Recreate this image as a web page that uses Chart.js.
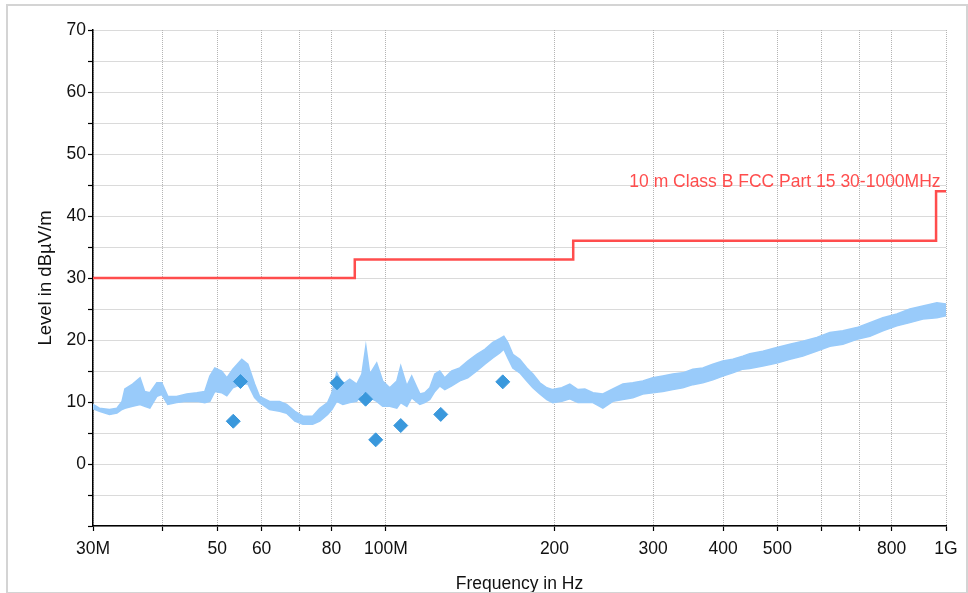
<!DOCTYPE html>
<html>
<head>
<meta charset="utf-8">
<script src="https://cdn.jsdelivr.net/npm/chart.js@4/dist/chart.umd.min.js"></script>
<style>
  html, body { margin: 0; padding: 0; background: #fff; }
  #wrap { position: relative; width: 968px; height: 593px; overflow: hidden; }
  #frame { position: absolute; left: 6px; top: 4px; width: 958px; height: 586px; border: 2px solid #d4d4d4; pointer-events: none; }
  canvas { position: absolute; left: 0; top: 0; }
</style>
</head>
<body>
<div id="wrap">
  <canvas id="c" width="968" height="593"></canvas>
  <div id="frame"></div>
</div>
<script>
// ---- data (frequency in MHz, level in dBµV/m) ----
const traceFreq = [30.0, 30.8, 32.1, 33.1, 33.8, 34.2, 35.3, 36.4, 37.1, 37.9, 39.0, 39.8, 40.8, 42.3, 44.1, 46.0, 47.5, 48.5, 49.5, 50.9, 52.0, 53.3, 55.3, 56.7, 58.3, 59.5, 62.0, 64.6, 66.5, 68.8, 71.1, 74.0, 76.2, 78.7, 80.1, 81.7, 83.8, 86.2, 88.7, 90.6, 92.1, 93.6, 96.3, 98.7, 101.6, 104.6, 106.3, 109.0, 111.2, 113.5, 115.0, 117.3, 119.8, 122.3, 124.8, 127.4, 131.1, 135.5, 140.0, 145.3, 150.2, 155.2, 159.7, 162.4, 165.1, 168.5, 173.4, 178.5, 183.0, 188.3, 193.8, 198.6, 206.1, 213.0, 220.2, 226.6, 234.2, 244.0, 254.2, 264.9, 276.0, 287.6, 299.6, 312.2, 325.3, 338.9, 353.2, 368.0, 383.4, 399.5, 416.2, 433.7, 446.3, 471.0, 498.9, 526.3, 555.2, 588.1, 620.4, 654.4, 693.2, 731.3, 771.4, 817.1, 861.9, 909.3, 963.2, 1000];
const traceMax = [9.6, 9.0, 8.8, 9.0, 10.1, 12.1, 12.9, 13.9, 11.7, 11.5, 13.1, 13.1, 10.9, 10.9, 11.3, 11.5, 11.7, 14.2, 15.5, 15.0, 13.9, 15.3, 16.9, 16.1, 12.9, 10.9, 10.1, 10.1, 9.6, 8.5, 7.7, 7.7, 9.0, 9.9, 11.5, 14.7, 12.9, 13.7, 12.9, 14.5, 19.0, 14.5, 16.3, 13.4, 12.3, 13.4, 15.8, 12.6, 14.2, 12.4, 11.3, 11.5, 12.3, 14.5, 15.0, 13.9, 15.0, 15.5, 16.6, 17.7, 18.5, 19.6, 20.2, 20.6, 19.6, 17.7, 16.9, 15.5, 14.5, 13.1, 12.3, 12.0, 12.3, 12.9, 12.0, 12.1, 11.5, 11.3, 12.1, 12.9, 13.1, 13.4, 13.9, 14.2, 14.5, 14.7, 15.3, 15.5, 16.1, 16.6, 16.9, 17.4, 17.8, 18.2, 18.8, 19.3, 19.8, 20.4, 21.2, 21.5, 22.0, 22.8, 23.6, 24.2, 25.0, 25.5, 26.0, 25.8];
const traceMin = [8.9, 8.5, 8.0, 8.2, 8.8, 9.0, 9.3, 9.6, 9.3, 9.0, 10.9, 11.2, 9.6, 9.9, 10.1, 10.1, 9.9, 10.1, 11.7, 11.5, 11.0, 12.3, 12.9, 12.9, 10.7, 9.9, 8.8, 8.5, 8.2, 6.9, 6.4, 6.4, 6.9, 8.0, 8.8, 10.1, 9.6, 9.9, 10.1, 11.3, 11.7, 10.7, 10.1, 9.3, 9.3, 9.0, 9.9, 9.3, 10.7, 10.0, 9.6, 9.9, 10.4, 11.7, 12.6, 12.0, 12.6, 13.4, 13.9, 15.0, 16.1, 17.1, 17.9, 18.5, 17.1, 15.5, 14.7, 13.4, 12.3, 11.3, 10.4, 9.9, 10.1, 10.5, 9.9, 9.9, 9.9, 9.0, 10.1, 10.4, 10.7, 11.3, 11.5, 11.7, 12.0, 12.3, 12.8, 13.1, 13.6, 14.2, 14.7, 15.3, 15.4, 15.8, 16.3, 16.9, 17.4, 18.2, 19.0, 19.3, 20.1, 20.6, 21.5, 22.3, 22.8, 23.4, 23.6, 23.9];

const markerFreq = [53.4, 55.0, 81.8, 92.0, 95.9, 106.3, 125.3, 161.7];
const markerLevel = [6.9, 13.3, 13.1, 10.45, 3.9, 6.2, 8.0, 13.25];

const limitFreq = [30, 88, 216, 960, 1000];
const limitLevel = [30, 33, 36, 44, 44];
const limitLabel = '10 m Class B FCC Part 15 30-1000MHz';

const xTickVals = [30, 40, 50, 60, 70, 80, 100, 200, 300, 400, 500, 600, 700, 800, 1000];
const xTickLabels = ['30M', '', '50', '60', '', '80', '100M', '200', '300', '400', '500', '', '', '800', '1G'];
const yTickLabelVals = [0, 10, 20, 30, 40, 50, 60, 70];

const xTitle = 'Frequency in Hz';
const yTitle = 'Level in dBµV/m';

// ---- chart ----
const FONT = 'Liberation Sans, Arial, sans-serif';
const pts = (xs, ys) => xs.map((x, i) => ({ x: x, y: ys[i] }));

const limitLabelPlugin = {
  id: 'limitLabel',
  afterDatasetsDraw(chart) {
    const { ctx, scales: { x, y } } = chart;
    const n = limitFreq.length;
    ctx.save();
    ctx.font = '17.5px ' + FONT;
    ctx.fillStyle = '#ff4d4d';
    ctx.textAlign = 'right';
    ctx.textBaseline = 'alphabetic';
    ctx.fillText(limitLabel, x.getPixelForValue(limitFreq[n - 2]) + 4.5, y.getPixelForValue(limitLevel[n - 1]) - 4.5);
    ctx.restore();
  }
};

new Chart(document.getElementById('c'), {
  type: 'line',
  data: {
    datasets: [
      { label: 'trace max', data: pts(traceFreq, traceMax), borderColor: '#99cbfa', backgroundColor: '#99cbfa',
        borderWidth: 1.5, pointRadius: 0, tension: 0, fill: false, order: 3 },
      { label: 'trace min', data: pts(traceFreq, traceMin), borderColor: '#99cbfa', backgroundColor: '#99cbfa',
        borderWidth: 1.5, pointRadius: 0, tension: 0, fill: '-1', order: 2 },
      { label: 'final', data: pts(markerFreq, markerLevel), showLine: false, pointStyle: 'rectRot',
        pointRadius: 7, pointBorderWidth: 1, pointBackgroundColor: '#3a98dc', pointBorderColor: '#3a98dc', order: 0 },
      { label: 'limit', data: pts(limitFreq, limitLevel), stepped: 'before', borderColor: '#ff4d4d',
        borderWidth: 2.5, pointRadius: 0, fill: false, order: 1 }
    ]
  },
  options: {
    responsive: false,
    animation: false,
    events: [],
    layout: { padding: { left: 0, top: 30, right: 22, bottom: 0 } },
    plugins: { legend: { display: false }, tooltip: { enabled: false } },
    scales: {
      x: {
        type: 'logarithmic', min: 30, max: 1000,
        afterBuildTicks: (s) => { s.ticks = xTickVals.map(v => ({ value: v })); },
        afterFit: (s) => { s.height = 67; },
        ticks: {
          autoSkip: false, maxRotation: 0, minRotation: 0, padding: 8,
          color: '#111', font: { family: FONT, size: 17.5 },
          callback: (v) => { const i = xTickVals.indexOf(v); return i >= 0 ? xTickLabels[i] : ''; }
        },
        grid: { color: '#b4b4b4', lineWidth: 1, tickColor: '#000', tickLength: 5, tickWidth: 1.2 },
        border: { display: true, color: '#000', width: 1.5, dash: [1, 1] },
        title: { display: true, text: xTitle, color: '#111', font: { family: FONT, size: 17.5 }, padding: { top: 0, bottom: -2 } }
      },
      y: {
        type: 'linear', min: -10, max: 70,
        afterFit: (s) => { s.width = 93; },
        ticks: {
          stepSize: 5, padding: 2, color: '#111', font: { family: FONT, size: 17.5 },
          callback: (v) => yTickLabelVals.includes(v) ? String(v) : ''
        },
        grid: { color: '#b4b4b4', lineWidth: 1, tickColor: '#000', tickLength: 5, tickWidth: 1.2 },
        border: { display: true, color: '#000', width: 1.5, dash: [1, 1] },
        title: { display: true, text: yTitle, color: '#111', font: { family: FONT, size: 18.5 }, padding: { top: 35, bottom: 0 } }
      }
    }
  },
  plugins: [limitLabelPlugin]
});
</script>
</body>
</html>
